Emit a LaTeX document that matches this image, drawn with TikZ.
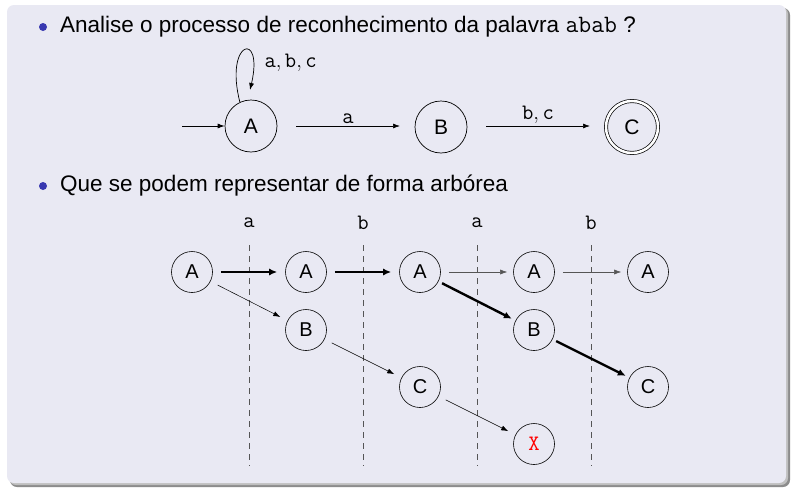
\documentclass[tikz,border=0pt]{standalone}
\usepackage{fontspec}
\setmainfont{Liberation Sans}
\newfontfamily\cour{Latin Modern Mono}
\usetikzlibrary{arrows.meta,shadows}
\definecolor{bg}{HTML}{E9E9F3}
\definecolor{bul}{HTML}{3838B0}
\definecolor{thingray}{HTML}{555555}
\newcommand{\tw}[1]{{\cour #1}}
\begin{document}
\begin{tikzpicture}[x=1pt,y=-1pt,
  st/.style={circle,draw,line width=0.7pt,minimum size=52pt,inner sep=0pt,font=\fontsize{21}{21}\selectfont},
  tn/.style={circle,draw,line width=0.6pt,minimum size=41pt,inner sep=0pt,font=\fontsize{20}{20}\selectfont},
  lbl/.style={font=\fontsize{22}{22}\selectfont},
  ar/.style={-{Latex[length=7pt,width=5pt]},line width=0.7pt},
  thick arr/.style={-{Latex[length=8pt,width=7pt]},line width=2.4pt},
  thin arr/.style={-{Latex[length=7pt,width=5pt]},line width=0.5pt},
  dash line/.style={dashed,dash pattern=on 6pt off 5pt,line width=0.8pt,thingray},
  bulletdot/.style={circle,fill=bul,inner sep=0pt,minimum size=8pt},
  txt/.style={anchor=west,font=\fontsize{22.5}{22.5}\selectfont,inner sep=0pt}]
\useasboundingbox (0,0) rectangle (796,490);
\fill[white] (0,0) rectangle (796,490);
\fill[black!45,rounded corners=7pt] (10,8) rectangle (790,487);
\fill[black!25,rounded corners=7pt] (9,7) rectangle (788,485);
\fill[bg,rounded corners=7pt] (7,5) rectangle (786,483);

\node[bulletdot] (b1) at (43,27) {};
\node[txt] (t1) at (60,27) {Analise o processo de reconhecimento da palavra {\cour\fontsize{25}{25}\selectfont abab} ?};
\node[bulletdot] (b2) at (43,186) {};
\node[txt] (t2) at (60,186) {Que se podem representar de forma arbórea};

% automaton
\node[st] (A) at (251,126) {A};
\node[st] (B) at (441,127) {B};
\node[st,double,double distance=2.5pt] (C) at (632,127) {C};
\coordinate (init) at (182,126);
\draw[ar] (init) -- (A);
\coordinate (ab1) at (296,126);
\coordinate (ab2) at (400,126);
\draw[ar] (ab1) -- node[lbl,above,yshift=-1pt] (la) {\tw{a}} (ab2);
\coordinate (bc1) at (486,126);
\coordinate (bc2) at (590,126);
\draw[ar] (bc1) -- node[lbl,above,yshift=-1pt] (lbc) {$\hbox{\tw{b}},\hbox{\tw{c}}$} (bc2);
\coordinate (loopend) at (250,90);
\draw[ar] (A.115) .. controls (224,40) and (264,30) .. (loopend);
\node[lbl,anchor=west] (lloop) at (261,63) {$\hbox{\tw{a}},\hbox{\tw{b}},\hbox{\tw{c}}$};

% tree
\foreach \x/\l in {249/a,363/b,477/a,591/b}{
  \draw[dash line] (\x,245) -- (\x,466);
  \node[lbl] at (\x,223) {\tw{\l}};
}
\node[tn] (a0) at (192,272) {A};
\node[tn] (a1) at (306,272) {A};
\node[tn] (a2) at (420,272) {A};
\node[tn] (a3) at (534,272) {A};
\node[tn] (a4) at (648,272) {A};
\node[tn] (b1n) at (306,330) {B};
\node[tn] (b2n) at (534,330) {B};
\node[tn] (c1) at (420,387) {C};
\node[tn] (c2) at (648,387) {C};
\node[tn,text=red,font=\cour\fontsize{22}{22}\selectfont] (x) at (534,444) {X};

\draw[thick arr,shorten <=8pt,shorten >=8pt] (a0) -- (a1);
\draw[thick arr,shorten <=8pt,shorten >=8pt] (a1) -- (a2);
\draw[thin arr,thingray,shorten <=8pt,shorten >=6pt] (a2) -- (a3);
\draw[thin arr,thingray,shorten <=8pt,shorten >=6pt] (a3) -- (a4);
\draw[thin arr,shorten <=8pt,shorten >=8pt] (a0) -- (b1n);
\draw[thin arr,shorten <=8pt,shorten >=8pt] (b1n) -- (c1);
\draw[thin arr,shorten <=8pt,shorten >=8pt] (c1) -- (x);
\draw[thick arr,shorten <=4pt,shorten >=4pt] (a2) -- (b2n);
\draw[thick arr,shorten <=4pt,shorten >=4pt] (b2n) -- (c2);
\end{tikzpicture}
\end{document}
